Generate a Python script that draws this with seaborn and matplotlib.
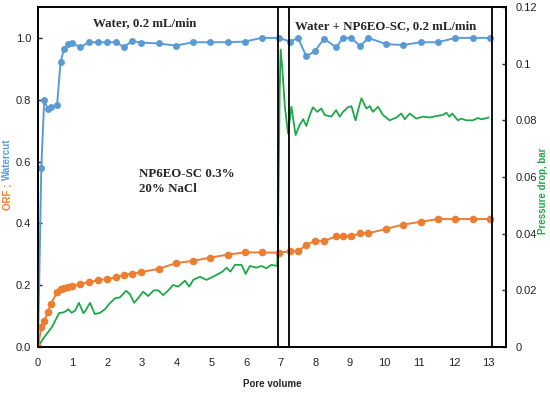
import matplotlib
matplotlib.use("Agg")
import matplotlib.pyplot as plt
import seaborn as sns
import pandas as pd
import numpy as np

# ---- data ----
pv_points = [0.0, 0.095, 0.18, 0.28, 0.37, 0.55, 0.65, 0.75, 0.86, 0.99, 1.22, 1.47, 1.74,
             2.0, 2.25, 2.48, 2.71, 2.97, 3.48, 3.97, 4.48, 4.97, 5.47, 5.96, 6.45, 6.95,
             7.28, 7.5, 7.74, 7.99, 8.25, 8.6, 8.8, 9.02, 9.3, 9.53, 10.04, 10.53, 11.04,
             11.53, 12.04, 12.54, 13.03]
watercut = [0.0, 0.58, 0.80, 0.77, 0.776, 0.783, 0.923, 0.963, 0.98, 0.983, 0.97, 0.986, 0.986,
            0.986, 0.986, 0.97, 0.99, 0.985, 0.982, 0.975, 0.986, 0.986, 0.986, 0.988, 1.0, 1.0,
            0.988, 1.0, 0.94, 0.958, 0.997, 0.97, 1.0, 1.0, 0.974, 1.0, 0.98, 0.977, 0.986,
            0.986, 1.0, 1.0, 1.0]
orf = [0.0, 0.064, 0.084, 0.112, 0.139, 0.177, 0.187, 0.192, 0.194, 0.196, 0.205, 0.21, 0.216,
       0.22, 0.225, 0.234, 0.237, 0.242, 0.253, 0.271, 0.279, 0.289, 0.299, 0.306, 0.306, 0.305,
       0.31, 0.31, 0.33, 0.344, 0.343, 0.358, 0.358, 0.358, 0.368, 0.368, 0.382, 0.396, 0.405,
       0.414, 0.414, 0.414, 0.414]

pv_dp = [0.0, 0.15, 0.4, 0.61, 0.73, 0.83, 0.87, 0.97, 1.07, 1.18, 1.31, 1.38, 1.5, 1.64, 1.79,
         1.93, 2.07, 2.22, 2.36, 2.54, 2.65, 2.77, 2.89, 3.03, 3.18, 3.34, 3.47, 3.61, 3.76,
         3.9, 4.04, 4.24, 4.36, 4.48, 4.67, 4.86, 5.05, 5.2, 5.32, 5.44, 5.55, 5.68, 5.87,
         5.99, 6.11, 6.3, 6.45, 6.59, 6.73, 6.9, 6.92, 6.97, 7.0, 7.05, 7.12, 7.21, 7.31,
         7.43, 7.55, 7.65, 7.74, 7.84, 7.93, 8.06, 8.17, 8.27, 8.46, 8.6, 8.7, 8.8, 8.94,
         9.04, 9.16, 9.26, 9.33, 9.47, 9.57, 9.66, 9.81, 9.95, 10.14, 10.34, 10.48, 10.58,
         10.72, 10.91, 11.1, 11.3, 11.49, 11.68, 11.78, 11.87, 11.95, 12.11, 12.21, 12.35,
         12.54, 12.69, 12.79, 12.88, 13.0]
pressure_drop = [0.0, 0.003, 0.007, 0.012, 0.0122, 0.0128, 0.0134, 0.0121, 0.0128, 0.0156,
                 0.0119, 0.013, 0.0156, 0.0116, 0.0121, 0.0133, 0.0154, 0.0172, 0.0175, 0.0198,
                 0.0187, 0.0156, 0.0172, 0.0195, 0.018, 0.020, 0.020, 0.0183, 0.020, 0.0219,
                 0.0213, 0.0234, 0.0213, 0.0237, 0.0248, 0.0237, 0.0248, 0.0258, 0.0266, 0.028,
                 0.0266, 0.029, 0.029, 0.0258, 0.0286, 0.028, 0.0286, 0.0278, 0.029, 0.0286,
                 0.035, 0.09, 0.105, 0.098, 0.085, 0.0754, 0.0848, 0.0748, 0.0784, 0.0804,
                 0.078, 0.0819, 0.0846, 0.083, 0.0842, 0.0819, 0.0813, 0.0836, 0.0813, 0.083,
                 0.0846, 0.085, 0.080, 0.0848, 0.0878, 0.0842, 0.085, 0.083, 0.0848, 0.0819,
                 0.080, 0.081, 0.0824, 0.0804, 0.0824, 0.0806, 0.0813, 0.081, 0.0815, 0.0819,
                 0.0827, 0.0813, 0.0824, 0.080, 0.0806, 0.080, 0.080, 0.0808, 0.0804, 0.0806,
                 0.081]

box_lines = [6.92, 7.24, 13.1]
x_ticks = list(range(0, 14))
left_ticks = [0.0, 0.2, 0.4, 0.6, 0.8, 1.0]
right_ticks = [0, 0.02, 0.04, 0.06, 0.08, 0.10, 0.12]
right_tick_labels = ["0", "0.02", "0.04", "0.06", "0.08", "0.1", "0.12"]

BLUE = "#5b9bd5"
ORANGE = "#ed7d31"
GREEN = "#1fa84a"

sns.set_theme(style="white")
plt.rcParams['font.family'] = ['Liberation Sans', 'DejaVu Sans']
plt.rcParams['lines.solid_joinstyle'] = 'round'

fig = plt.figure(figsize=(5.5, 3.93), dpi=100)
ax = fig.add_axes([38/550, 1-347/393, (506-38)/550, (347-7)/393])
ax2 = ax.twinx()

df_pts = pd.DataFrame({"pv": pv_points, "watercut": watercut, "orf": orf})
df_dp = pd.DataFrame({"pv": pv_dp, "dp": pressure_drop})

sns.lineplot(data=df_dp, x="pv", y="dp", ax=ax2, color=GREEN, linewidth=1.3, sort=False)
sns.lineplot(data=df_pts, x="pv", y="watercut", ax=ax, color=BLUE, linewidth=1.4,
             marker="o", markersize=5, markeredgewidth=0, sort=False)
sns.lineplot(data=df_pts, x="pv", y="orf", ax=ax, color=ORANGE, linewidth=1.4,
             marker="o", markersize=5.5, markeredgewidth=0, sort=False)

ax.set_zorder(ax2.get_zorder() + 1)
ax.patch.set_visible(False)

for xv in box_lines:
    ax.axvline(xv, color="black", linewidth=1.3, zorder=5)

ax.set_xlim(0, 13.5)
ax.set_ylim(0, 1.1)
ax2.set_ylim(0, 0.12)
ax.set_xticks(x_ticks)
ax.set_yticks(left_ticks)
ax.set_yticklabels([f"{v:.1f}" for v in left_ticks])
ax2.set_yticks(right_ticks)
ax2.set_yticklabels(right_tick_labels)

for a in (ax, ax2):
    for s in a.spines.values():
        s.set_color("black")
        s.set_linewidth(1.2)
ax.tick_params(axis="x", direction="in", length=3, width=1, labelsize=8, pad=8)
ax.tick_params(axis="y", direction="in", length=3, width=1, labelsize=8, pad=5)
ax2.tick_params(axis="y", direction="in", length=3, width=1, labelsize=8, pad=7)
for t in ax.get_xticklabels() + ax.get_yticklabels() + ax2.get_yticklabels():
    t.set_color("#222222")

ax.set_xlabel("Pore volume", fontsize=7, fontweight="bold", labelpad=8)
ax.set_ylabel("")
ax2.set_ylabel("")

ax.text(-0.066, 0.49, "ORF ; ", color=ORANGE, fontsize=7, fontweight="bold", rotation=90,
        rotation_mode="anchor", ha="right", va="center", transform=ax.transAxes)
ax.text(-0.066, 0.49, "Watercut", color=BLUE, fontsize=7, fontweight="bold", rotation=90,
        rotation_mode="anchor", ha="left", va="center", transform=ax.transAxes)
ax2.text(1.08, 0.46, "Pressure drop, bar", color=GREEN, fontsize=7, fontweight="bold",
         rotation=90, ha="center", va="center", transform=ax2.transAxes)

serif = ['Liberation Serif', 'DejaVu Serif']
ax.text(3.08, 1.048, "Water, 0.2 mL/min", fontsize=9.3, fontweight="bold", family=serif,
        ha="center", va="center")
ax.text(10.04, 1.039, "Water + NP6EO-SC, 0.2 mL/min", fontsize=9.3, fontweight="bold",
        family=serif, ha="center", va="center")
ax.text(2.91, 0.535, "NP6EO-SC 0.3%\n20% NaCl", fontsize=9.3, fontweight="bold", family=serif,
        ha="left", va="center", linespacing=1.4)

fig.savefig("out.png", dpi=100)
